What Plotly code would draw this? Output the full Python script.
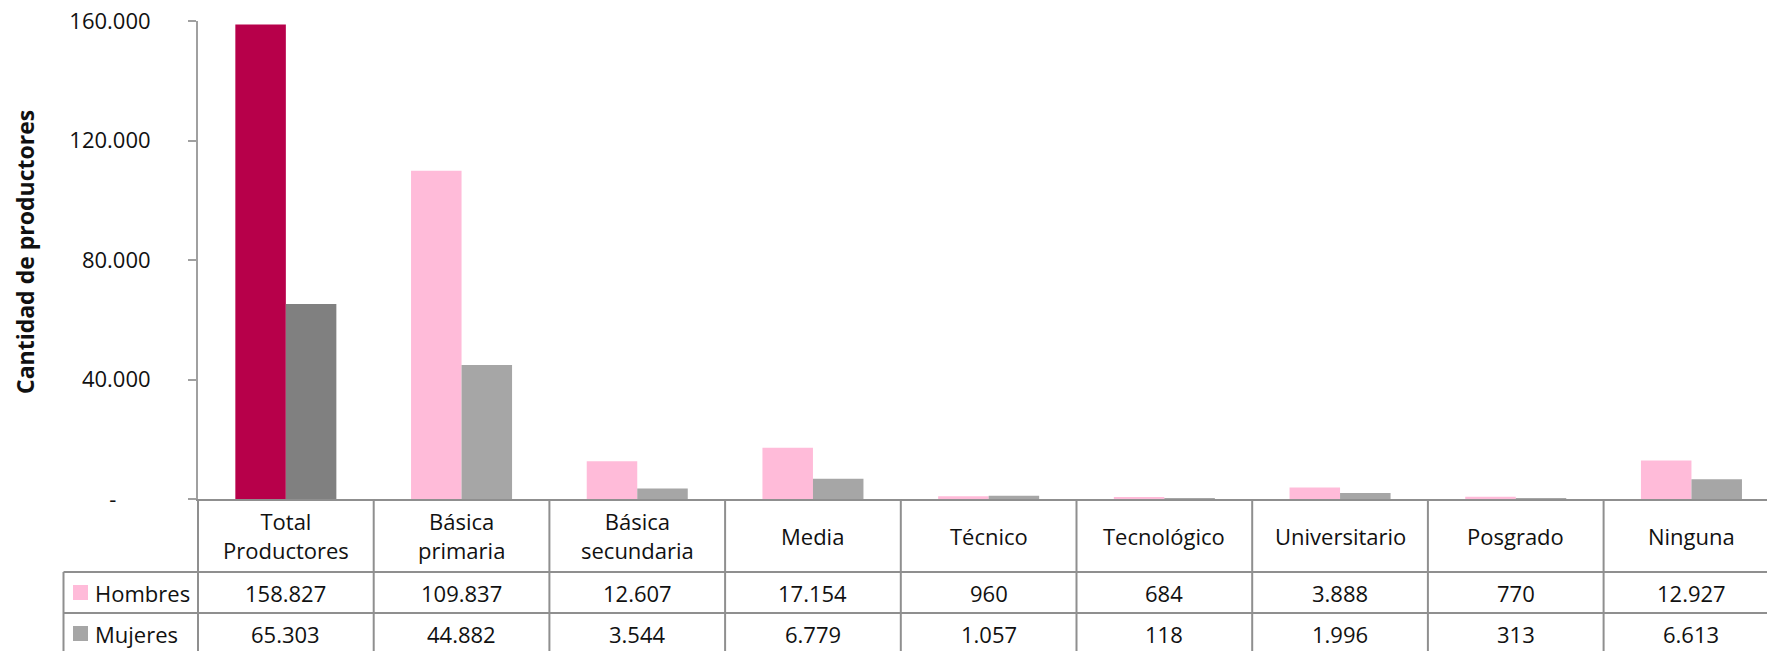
import plotly.graph_objects as go

# ---------------- data ----------------
categories = ["Total<br>Productores", "Básica<br>primaria", "Básica<br>secundaria", "Media",
              "Técnico", "Tecnológico", "Universitario", "Posgrado", "Ninguna"]
hombres = [158827, 109837, 12607, 17154, 960, 684, 3888, 770, 12927]
mujeres = [65303, 44882, 3544, 6779, 1057, 118, 1996, 313, 6613]
series_names = ["Hombres", "Mujeres"]
y_tick_vals = [0, 40000, 80000, 120000, 160000]
y_tick_text = ["-" + "\u00a0" * 6, "40.000", "80.000", "120.000", "160.000"]
y_title = "Cantidad de productores"

# ---------------- styles ----------------
FONT = "Open Sans"
FS = 22
TXT = "#111111"
LINE = "#8f8f8f"
H_TOTAL_COLOR = "#B7004A"
H_COLOR = "#FFBBD9"
M_TOTAL_COLOR = "#808080"
M_COLOR = "#A6A6A6"

W, H = 1767, 651
ML, MT, MB, MR = 198, 21, 152, 0
PW = W - ML - MR
PH = H - MT - MB
CAT_W = 175.7  # px per category
x_max = -0.5 + PW / CAT_W


def py(d):  # px below baseline -> paper y
    return -d / PH


def px(xp):  # absolute px -> paper x
    return (xp - ML) / PW


HEADER_H, ROW_H = 73, 41
n = len(categories)
xs = list(range(n))

h_colors = [H_TOTAL_COLOR] + [H_COLOR] * (n - 1)
m_colors = [M_TOTAL_COLOR] + [M_COLOR] * (n - 1)

fig = go.Figure()
fig.add_trace(go.Bar(x=xs, y=hombres, name=series_names[0], marker_color=h_colors,
                     marker_line_width=0))
fig.add_trace(go.Bar(x=xs, y=mujeres, name=series_names[1], marker_color=m_colors,
                     marker_line_width=0))


def fmt(v):
    return f"{v:,}".replace(",", ".")


shapes = []
annotations = []
BOTTOM = HEADER_H + 2 * ROW_H + 10
for i in range(n):
    shapes.append(dict(type="line", xref="x", yref="paper", x0=i + 0.5, x1=i + 0.5,
                       y0=0, y1=py(BOTTOM), line=dict(color=LINE, width=2)))
shapes.append(dict(type="line", xref="paper", yref="paper", x0=0, x1=0,
                   y0=0, y1=py(BOTTOM), line=dict(color=LINE, width=2)))
for d in [HEADER_H, HEADER_H + ROW_H, HEADER_H + 2 * ROW_H]:
    shapes.append(dict(type="line", xref="paper", yref="paper", x0=px(63.5), x1=1.01,
                       y0=py(d), y1=py(d), line=dict(color=LINE, width=2)))
shapes.append(dict(type="line", xref="paper", yref="paper", x0=px(63.5), x1=px(63.5),
                   y0=py(HEADER_H), y1=py(BOTTOM), line=dict(color=LINE, width=2)))

for i, c in enumerate(categories):
    annotations.append(dict(x=i, xref="x", y=py(HEADER_H / 2), yref="paper", text=c,
                            showarrow=False, xanchor="center", yanchor="middle",
                            font=dict(family=FONT, size=FS, color=TXT)))

for r, (name, vals, key_col) in enumerate([(series_names[0], hombres, H_COLOR),
                                            (series_names[1], mujeres, M_COLOR)]):
    yc = HEADER_H + ROW_H * r + ROW_H / 2
    for i, v in enumerate(vals):
        annotations.append(dict(x=i, xref="x", y=py(yc), yref="paper", text=fmt(v),
                                showarrow=False, xanchor="center", yanchor="middle",
                                font=dict(family=FONT, size=FS, color=TXT)))
    annotations.append(dict(x=px(93), xref="paper", y=py(yc), yref="paper", text=name,
                            showarrow=False, xanchor="left", yanchor="middle",
                            font=dict(family=FONT, size=FS, color=TXT)))
    shapes.append(dict(type="rect", xref="paper", yref="paper", x0=px(73), x1=px(88),
                       y0=py(yc - 7.5), y1=py(yc + 7.5), fillcolor=key_col, line=dict(width=0)))

annotations.append(dict(x=px(25), xref="paper", y=(PH - (252 - MT)) / PH, yref="paper",
                        text=f"<b>{y_title}</b>", textangle=-90, showarrow=False,
                        xanchor="center", yanchor="middle",
                        font=dict(family=FONT, size=23, color=TXT)))

fig.update_layout(
    width=W, height=H,
    margin=dict(l=ML, r=MR, t=MT, b=MB, pad=0),
    paper_bgcolor="white", plot_bgcolor="white",
    barmode="group", bargap=0.425, bargroupgap=0,
    showlegend=False,
    font=dict(family=FONT, size=FS, color=TXT),
    xaxis=dict(range=[-0.5, x_max], showticklabels=False, ticks="", showgrid=False,
               zeroline=False, showline=True, linecolor=LINE, linewidth=2, fixedrange=True),
    yaxis=dict(range=[0, 160000], tickvals=y_tick_vals, ticktext=y_tick_text,
               ticks="outside", ticklen=8, tickwidth=2, tickcolor="#a0a0a0",
               showline=True, linecolor="#a0a0a0", linewidth=2, showgrid=False,
               zeroline=False, ticklabelstandoff=33,
               tickfont=dict(family=FONT, size=FS, color=TXT)),
    shapes=shapes, annotations=annotations,
)

fig.write_html("out.html", config={"displayModeBar": False},
               post_script="document.body.style.margin='0';document.body.style.overflow='hidden';")
